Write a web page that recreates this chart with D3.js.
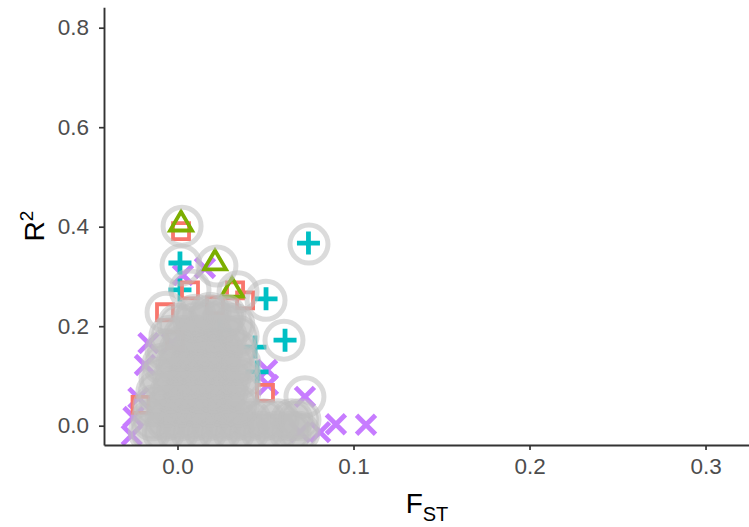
<!DOCTYPE html>
<html><head><meta charset="utf-8">
<script src="https://cdn.jsdelivr.net/npm/d3@7"></script>
<style>body{margin:0;background:#fff}svg{display:block}</style>
</head><body><svg id="chart" width="749" height="527"></svg>
<script>
// ---- data ----
const xTicks = [0, 0.1, 0.2, 0.3];
const yTicks = [0, 0.2, 0.4, 0.6, 0.8];
// [F_ST, R2] per group
const squarePts = [[0.002,0.391],[0.0071,0.272],[0.0327,0.272],[-0.0071,0.228],[-0.021,0.042],[-0.0014,0.172],[0.0497,0.066],[0.0213,0.242],[0.0384,0.252]];
const trianglePts = [[0.002,0.405],[0.0213,0.327],[0.031,0.272]];
const plusPts = [[0.0014,0.327],[0.0503,0.255],[0.0744,0.367],[0.0611,0.172],[0.044,0.158],[0.0452,0.108],[0.0014,0.273],[0.0241,0.192]];
const crossPts = [[0.0724,0.058],[0.090,0.003],[0.1071,0.002],[0.0696,-0.013],[0.081,-0.013],[-0.0165,0.166],[-0.0185,0.122],[-0.0222,0.056],[-0.025,0.0175],[-0.026,-0.019],[0.0156,0.317],[0.0031,0.303],[0.0509,0.112],[0.0514,0.082],[-0.0031,0.166]];
// grey circles around the isolated SNPs
const ringPts = [[0.0026,0.401],[0.002,0.323],[0.0224,0.321],[0.0344,0.269],[0.0503,0.252],[0.0747,0.365],[0.0605,0.172],[0.0724,0.058],[-0.0065,0.228],[0.0071,0.273]];
// dense grey cloud of SNPs
const cloudPts = [
 [-0.016,-0.013],[-0.008,-0.013],[0.000,-0.013],[0.008,-0.013],[0.016,-0.013],[0.024,-0.013],[0.032,-0.013],[0.040,-0.013],[0.048,-0.013],[0.056,-0.013],[0.064,-0.013],[0.069,-0.013],
 [-0.0145,0.012],[-0.0065,0.012],[0.0015,0.012],[0.0094,0.012],[0.0173,0.012],[0.0253,0.012],[0.0332,0.012],[0.0412,0.012],[0.0491,0.012],[0.0571,0.012],[0.065,0.012],[0.0696,0.012],
 [-0.0134,0.040],[-0.0054,0.040],[0.0026,0.040],[0.0105,0.040],[0.0185,0.040],[0.0264,0.040],[0.0344,0.040],
 [-0.0117,0.068],[-0.0037,0.068],[0.0043,0.068],[0.0122,0.068],[0.0202,0.068],[0.0281,0.068],[0.0355,0.068],
 [-0.0099,0.096],[-0.002,0.096],[0.006,0.096],[0.0139,0.096],[0.0219,0.096],[0.0298,0.096],[0.0355,0.096],
 [-0.0082,0.124],[-0.0003,0.124],[0.0077,0.124],[0.0156,0.124],[0.0236,0.124],[0.0315,0.124],[0.0355,0.124],
 [-0.0065,0.152],[0.0014,0.152],[0.0094,0.152],[0.0173,0.152],[0.0253,0.152],[0.0332,0.152],
 [-0.0043,0.180],[0.0037,0.180],[0.0116,0.180],[0.0196,0.180],[0.0276,0.180],[0.0344,0.180],
 [0.0005,0.204],[0.0094,0.210],[0.0173,0.212],[0.0253,0.210],[0.032,0.204],
 [0.0099,0.222],[0.0185,0.226],[0.027,0.222]
];
const colors = {square:"#F8766D", triangle:"#7CAE00", plus:"#00BFC4", cross:"#C77CFF"};

// ---- layout ----
const L = 104, R = 749, T = 7.3, B = 445;
const svg = d3.select("#chart");
const x = d3.scaleLinear().domain([-0.04176, 0.3247]).range([L, R]);
const y = d3.scaleLinear().domain([-0.0388, 0.841]).range([B, T]);

svg.append("defs").append("clipPath").attr("id","panel")
  .append("rect").attr("x",L).attr("y",T).attr("width",R-L).attr("height",B-T);
const g = svg.append("g").attr("clip-path","url(#panel)");

const shapes = {
  square: "M-8,-8H8V8H-8Z",
  triangle: "M0,-12.5L11,6.3L-11,6.3Z",
  plus: "M-11.5,0H11.5M0,-11.5V11.5",
  cross: "M-9.5,-9.5L9.5,9.5M9.5,-9.5L-9.5,9.5"
};
const widths = {square:3.8, triangle:3.8, plus:4.8, cross:4.8};
function drawPts(pts, kind){
  g.append("g").selectAll("path").data(pts).join("path")
    .attr("transform", d => `translate(${x(d[0])},${y(d[1])})`)
    .attr("d", shapes[kind])
    .attr("fill","none")
    .attr("stroke", colors[kind])
    .attr("stroke-width", widths[kind])
    .attr("stroke-linecap","butt");
}
drawPts(crossPts, "cross");
drawPts(plusPts, "plus");
drawPts(squarePts, "square");
drawPts(trianglePts, "triangle");

// grey layer
g.append("g").selectAll("circle").data(cloudPts).join("circle")
  .attr("cx", d => x(d[0])).attr("cy", d => y(d[1])).attr("r", 19)
  .attr("fill","#bebebe").attr("fill-opacity",0.5)
  .attr("stroke","#bebebe").attr("stroke-opacity",0.55).attr("stroke-width",5);
g.append("g").selectAll("circle").data(ringPts).join("circle")
  .attr("cx", d => x(d[0])).attr("cy", d => y(d[1])).attr("r", 19)
  .attr("fill","none")
  .attr("stroke","#bebebe").attr("stroke-opacity",0.55).attr("stroke-width",5);

// ---- axes ----
const fontFam = "'Liberation Sans', Arial, sans-serif";
const xAxis = svg.append("g").attr("transform",`translate(0,${B})`)
  .call(d3.axisBottom(x).tickValues(xTicks).tickFormat(d3.format(".1f")).tickSize(5).tickSizeOuter(0).tickPadding(8));
const yAxis = svg.append("g").attr("transform",`translate(${L},0)`)
  .call(d3.axisLeft(y).tickValues(yTicks).tickFormat(d3.format(".1f")).tickSize(5).tickSizeOuter(0).tickPadding(10));
[xAxis, yAxis].forEach(a => {
  a.select(".domain").attr("stroke","#333").attr("stroke-width",1.9);
  a.selectAll(".tick line").attr("stroke","#333").attr("stroke-width",1.7);
  a.selectAll(".tick text").attr("fill","#4d4d4d").style("font-family",fontFam).style("font-size","22.5px");
});

// axis titles
const xt = svg.append("text").attr("x", 427).attr("y", 513)
  .attr("text-anchor","middle").style("font-family",fontFam).style("font-size","28px").attr("fill","#000");
xt.append("tspan").text("F");
xt.append("tspan").attr("dy", 8).style("font-size","20px").text("ST");

const yt = svg.append("text").attr("transform","translate(44,226) rotate(-90)")
  .attr("text-anchor","middle").style("font-family",fontFam).style("font-size","28px").attr("fill","#000");
yt.append("tspan").text("R");
yt.append("tspan").attr("dy", -11).style("font-size","19px").text("2");
</script></body></html>
